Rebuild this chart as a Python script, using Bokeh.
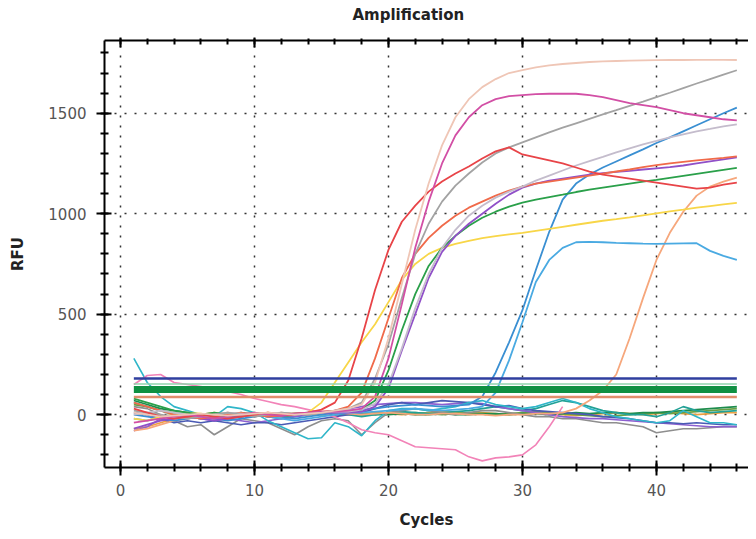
from bokeh.plotting import figure
from bokeh.models import LinearAxis, Range1d, SingleIntervalTicker, CustomLabelingPolicy
from bokeh.embed import file_html
from bokeh.resources import INLINE

# ---------------- data ----------------
cycles = list(range(1, 47))

red = [30, 10, -10, -20, -10, 0, -10, -20, -10, 0, 10, 0, 5,
       10, 25, 60, 170, 380, 620, 820, 960, 1040, 1110, 1160, 1200, 1235, 1275, 1310, 1330,
       1295, 1280, 1265, 1250, 1230, 1210, 1195, 1185, 1175, 1165, 1155, 1145, 1135, 1125,
       1130, 1145, 1155]
yellow = [-20, -30, -10, 0, 10, 5, -5, 0, 5, 0, -5, 0, 5,
          10, 60, 160, 260, 360, 450, 560, 670, 750, 800, 830, 850, 865, 878, 888, 897, 905,
          915, 925, 935, 945, 955, 965, 973, 982, 992, 1002, 1012, 1020, 1030, 1038, 1046, 1054]
orange_red = [60, 40, 20, 0, -10, -20, -10, 0, 10, 0, -10, -5, 0, 10, 15, 20,
              40, 110, 280, 480, 680, 800, 880, 940, 990, 1030, 1060, 1090, 1115, 1135, 1150,
              1160, 1170, 1180, 1190, 1200, 1210, 1220, 1232, 1242, 1250, 1258, 1265, 1272,
              1278, 1285]
gray = [20, 10, 0, -10, -20, -10, 0, 10, 0, -10, 0, 10, 5, 0, 10, 20,
        30, 60, 180, 350, 580, 800, 950, 1060, 1140, 1200, 1255, 1300, 1330, 1355, 1380, 1405,
        1428, 1450, 1472, 1494, 1515, 1537, 1558, 1580, 1602, 1625, 1648, 1670, 1692, 1714]
beige = [10, 0, -10, -5, 0, 5, 0, -5, 0, 5, 10, 5, 0, 5, 10, 20, 30,
         50, 160, 380, 650, 920, 1150, 1340, 1480, 1570, 1630, 1670, 1700, 1715, 1728, 1738,
         1745, 1750, 1755, 1758, 1760, 1762, 1763, 1764, 1765, 1765, 1766, 1766, 1766, 1765]
magenta = [-40, -30, -20, -10, 0, -10, -20, -10, 0, 10, 0, -5, 5, 10, 15, 15, 20,
           30, 90, 280, 550, 830, 1060, 1250, 1390, 1480, 1540, 1570, 1585, 1590, 1595, 1597,
           1598, 1597, 1590, 1580, 1565, 1550, 1540, 1530, 1515, 1500, 1490, 1480, 1470, 1465]
light = [0, 10, 20, 10, 0, -10, 0, 10, 5, 0, 5, 10, 0, 5, 10, 15, 15,
         25, 55, 150, 330, 530, 700, 830, 920, 990, 1040, 1080, 1110, 1135, 1165, 1190, 1215,
         1240, 1262, 1283, 1305, 1325, 1345, 1362, 1380, 1395, 1410, 1422, 1435, 1445]
purple = [-70, -50, -30, -20, -10, -20, -30, -20, -10, 0, -10, -5, 0, 5, 10, 10, 10,
          15, 40, 130, 320, 500, 680, 810, 890, 950, 1000, 1050, 1095, 1130, 1150, 1165, 1175,
          1185, 1195, 1202, 1208, 1213, 1220, 1226, 1232, 1240, 1250, 1260, 1270, 1280]
green = [80, 60, 40, 20, 10, 0, 10, 0, -10, 0, 5, 0, 5, 10, 10, 15, 15,
         25, 70, 220, 420, 600, 740, 830, 890, 940, 980, 1010, 1035, 1055, 1070, 1083, 1095,
         1108, 1120, 1130, 1140, 1150, 1160, 1168, 1178, 1188, 1198, 1208, 1218, 1228]
blue_late = [0, -10, -20, -30, -20, -10, -20, -30, -20, -10, 0, -10, -20, -10, 0, 10, 20,
             25, 30, 40, 45, 50, 45, 40, 45, 50,
             90, 210, 360, 520, 720, 910, 1070, 1150, 1195, 1230, 1260, 1290, 1320, 1352, 1380,
             1410, 1440, 1470, 1500, 1528]
blue_plateau = [-20, -30, -10, 0, 10, 0, -10, -20, -10, 0, -10, -20, -30, -20, -10, 0, 10,
                10, 15, 20, 25, 30, 25, 20, 25, 30, 40,
                110, 270, 460, 660, 770, 830, 858, 860, 858, 855, 853, 851, 850, 851, 852, 853,
                815, 790, 770]
peach = [-80, -70, -50, -30, -20, -10, 0, 10, 0, -10, 0, 10, 5, 0, 5, 10, 5, 0, 5, 10, 5, 0,
         0, 5, 5, 0, 0, -5, 0, 0, 5, 5,
         10, 30, 70, 120, 200, 380, 580, 770, 905, 1010, 1090, 1135, 1160, 1180]
pink = [150, 195, 200, 160, 150, 140, 130, 115, 100, 80, 65, 50, 40, 25, 10, -10, -40, -75,
        -90, -100, -130, -160, -165, -170, -175, -210, -230, -215, -210, -200, -150, -60, 40]

base_cyan = [280, 160, 90, 40, 20, 0, -10, 40, 30, 10, -30, -60, -90, -120, -115, -40, -60,
             -105, -30, 20, 30, 30, 20, 30, 40, 60, 70, 50, 40, 30, 40, 60, 80, 60, 30, 10,
             -10, -20, -30, -40, -30, 20, -10, -40, -40, -50]
base_gray = [40, 30, 0, -30, -60, -50, -100, -60, -20, -30, -40, -70, -100, -60, -30, -20,
             -30, -100, -40, 10, 20, 30, 20, 10, 0, 10, 20, 20, 10, 0, -10, -10, -20, -20,
             -30, -40, -40, -50, -60, -90, -80, -70, -70, -65, -60, -60]
base_indigo = [10, 0, -20, -40, -30, -40, -30, -40, -50, -40, -40, -50, -40, -30, -20, -10, 0,
               10, 30, 50, 60, 50, 60, 70, 65, 60, 50, 40, 45, 30, 20, 15, 10, 5, 0, -10, -15,
               -20, -30, -40, -40, -45, -40, -45, -50, -50]
base_violet = [-80, -60, -20, 0, -10, -20, -30, -20, -30, -40, -30, -20, -10, 0, 10, 20, 30,
               40, 50, 55, 60, 60, 55, 50, 55, 60, 55, 40, 30, 20, 10, 0, -10, -15, -20, -20,
               -25, -30, -35, -40, -45, -50, -55, -60, -60, -60]
base_darkgreen = [70, 50, 30, 20, 10, 0, 0, -10, -5, 0, 0, -5, 0, 5, 0, 0, 5, 0, 0, 0, 5, 0,
                  0, 5, 0, 0, 5, 5, 0, 5, 5, 0, 5, 10, 5, 10, 10, 5, 10, 10, 15, 20, 25, 30,
                  35, 40]
base_olive = [50, 40, 20, 10, 0, -10, -20, -10, 0, 10, 0, -10, -5, 0, 5, 10, 5, 0, 5, 10, 5,
              10, 5, 0, 5, 10, 5, 0, 5, 10, 15, 10, 5, 0, -5, -10, -5, 0, 5, 10, 5, 10, 15, 20,
              25, 30]
base_orange = [-70, -60, -40, -20, -10, 0, 10, 0, -10, 0, 10, 5, 0, 5, 10, 5, 0, 5, 10, 5, 0,
               5, 10, 15, 10, 5, 10, 5, 0, 5, 10, 5, 0, -5, 0, 5, 10, 5, 0, 5, 10, 5, 0, 5, 10,
               10]
base_teal = [60, 40, 20, 0, -10, -20, -10, 0, 10, 0, -10, -20, -10, 0, 10, 5, 0, -10, 0, 10,
             15, 10, 5, 10, 15, 20, 30, 40, 30, 20, 30, 50, 70, 60, 40, 20, 10, 0, 0, -10, 10,
             40, 20, 10, 15, 20]

thresholds = [180, 152, 125, 88]

x_ticks_interval = 10
y_ticks_interval = 500

# ---------------- style ----------------
FONT = "DejaVu Sans"
baseline_styles = [
    (base_orange, "#eea040"), (base_olive, "#6aa044"), (base_darkgreen, "#1e8c4c"),
    (base_teal, "#22a196"), (base_gray, "#8e8e8e"), (base_violet, "#8c5fd0"),
    (base_indigo, "#4a5ab4"), (base_cyan, "#2fb6c9"),
]
curve_styles = [
    (peach, "#f6a77c"), (blue_plateau, "#4aaae2"), (blue_late, "#3a8fd2"),
    (yellow, "#f8d648"), (green, "#2aa04a"), (purple, "#9050c8"), (orange_red, "#f06a4a"),
    (light, "#c4bccc"), (gray, "#a3a3a3"), (red, "#e84448"), (magenta, "#d24fa5"),
    (beige, "#efc6b6"),
]
threshold_styles = [("#2f3f9f", 2.5), ("#8fd4ac", 1.5), ("#0f9042", 7), ("#e08e6c", 2.5)]

p = figure(width=748, height=531, x_range=Range1d(-1.19, 46.87), y_range=Range1d(-263, 1862),
           output_backend="svg", toolbar_location=None,
           min_border_left=104, min_border_right=0, min_border_top=40, min_border_bottom=63)
p.outline_line_color = None
p.background_fill_color = "white"
p.border_fill_color = "white"

p.title.text = "Amplification"
p.title.text_font = FONT
p.title.text_font_size = "15px"
p.title.text_font_style = "bold"
p.title.text_color = "#222222"
p.title.align = "left"
p.title.offset = 248
p.title.standoff = 6

bottom = p.xaxis[0]
left = p.yaxis[0]

xt = SingleIntervalTicker(interval=x_ticks_interval, num_minor_ticks=5)
yt = SingleIntervalTicker(interval=y_ticks_interval, num_minor_ticks=5)
bottom.ticker = xt
left.ticker = yt
p.xgrid.ticker = xt
p.ygrid.ticker = yt

no_labels = CustomLabelingPolicy(code="return new Set()")
top = LinearAxis(ticker=xt, major_label_policy=no_labels, major_label_standoff=0,
                 axis_label=None)
p.add_layout(top, "above")

for ax in [bottom, left, top]:
    ax.axis_line_color = "black"
    ax.axis_line_width = 2
    ax.major_tick_line_color = "black"
    ax.major_tick_line_width = 2
    ax.minor_tick_line_color = "black"
    ax.minor_tick_line_width = 2
    ax.major_tick_in = 7
    ax.major_tick_out = 8
    ax.minor_tick_in = 4
    ax.minor_tick_out = 4
top.major_tick_out = 3
top.minor_tick_out = 2
for ax in [bottom, left]:
    ax.major_label_text_font = FONT
    ax.major_label_text_font_size = "15px"
    ax.major_label_text_color = "#555555"
    ax.axis_label_text_font = FONT
    ax.axis_label_text_font_size = "15px"
    ax.axis_label_text_font_style = "bold"
    ax.axis_label_text_color = "#222222"
bottom.axis_label = "Cycles"
left.axis_label = "RFU"
bottom.major_label_standoff = 8
left.major_label_standoff = 10
bottom.axis_label_standoff = 12
left.axis_label_standoff = 18

for g in [p.xgrid[0], p.ygrid[0]]:
    g.grid_line_color = "#333333"
    g.grid_line_dash = "2 8"
    g.grid_line_width = 1.5

for vals, col in baseline_styles:
    p.line(cycles, vals, line_color=col, line_width=1.6)
p.line(cycles[:len(pink)], pink, line_color="#f283b8", line_width=1.6)
for vals, col in curve_styles:
    p.line(cycles, vals, line_color=col, line_width=1.8)
for lvl, (col, w) in zip(thresholds, threshold_styles):
    p.line([cycles[0], cycles[-1]], [lvl, lvl], line_color=col, line_width=w)

open("out.html", "w").write(file_html(p, INLINE))
